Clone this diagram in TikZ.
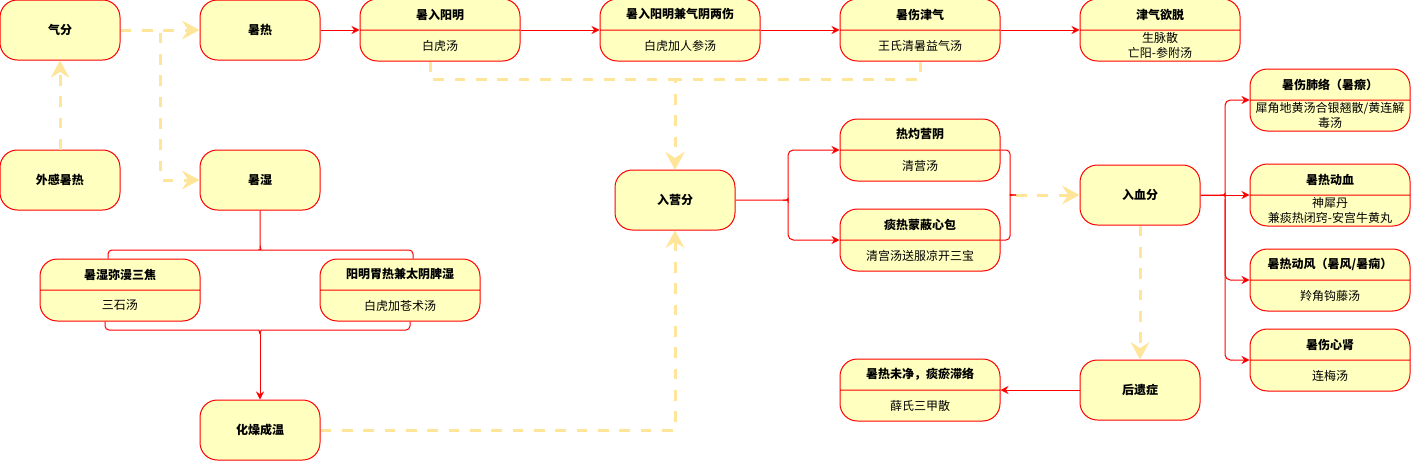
\documentclass[tikz,border=0pt]{standalone}
\usepackage{fontspec}
\setmainfont{Noto Sans CJK SC}
\usepackage{tikz}
\usetikzlibrary{positioning,shapes,arrows.meta,calc}
\definecolor{boxfill}{HTML}{FFFFC0}
\definecolor{dashcol}{HTML}{FFE599}
\newcommand*{\cellbox}[1]{\parbox[c][22.5pt][c]{120pt}{\centering #1}}

\begin{document}
\begin{tikzpicture}[x=0.75pt,y=-0.75pt,font=\fontsize{9}{11}\selectfont]
	\tikzstyle{simple}=[rectangle, draw=red, line width=0.75pt, rounded corners=13pt, fill=boxfill,
	minimum width=90pt, minimum height=45pt, text centered, font=\fontsize{9}{11}\selectfont\bfseries]
	\tikzstyle{split}=[rectangle, draw=red, line width=0.75pt, rounded corners=13pt, fill=boxfill,
	rectangle split, rectangle split parts=2, inner sep=0pt]
	\tikzstyle{line}=[draw=red, line width=0.75pt, -{Stealth[length=6pt,width=6pt,inset=2pt]}]
	\tikzstyle{plain}=[draw=red, line width=0.75pt, rounded corners=3pt]
	\tikzstyle{dashline}=[draw=dashcol, line width=2.25pt, dash pattern=on 8pt off 8pt,
	-{Stealth[length=13pt,width=14pt,inset=4.5pt]}]
	\useasboundingbox (0,0) rectangle (1411,461);

	% qi level
	\node (qifen) [simple] at (60,30) {气分};
	\node (wgsr) [simple] at (60,180) {外感暑热};
	\node (shure) [simple] at (260,30) {暑热};
	\node (shushi) [simple] at (260,180) {暑湿};
	\node (rydm) [split] at (440,30) {\cellbox{\textbf{暑入阳明}}\nodepart{second}\cellbox{白虎汤}};
	\node (rydmj) [split] at (680,30) {\cellbox{\textbf{暑入阳明兼气阴两伤}}\nodepart{second}\cellbox{白虎加人参汤}};
	\node (sssq) [split] at (920,30) {\cellbox{\textbf{暑伤津气}}\nodepart{second}\cellbox{王氏清暑益气汤}};
	\node (jqyt) [split] at (1160,30) {\cellbox{\textbf{津气欲脱}}\nodepart{second}\cellbox{生脉散\\亡阳-参附汤}};
	\node (swmj) [split] at (120,290) {\cellbox{\textbf{暑湿弥漫三焦}}\nodepart{second}\cellbox{三石汤}};
	\node (ymwr) [split] at (400,290) {\cellbox{\textbf{阳明胃热兼太阴脾湿}}\nodepart{second}\cellbox{白虎加苍术汤}};
	\node (hzcw) [simple] at (260,430) {化燥成温};

	% ying and xue levels
	\node (rys) [simple] at (675,200) {入营分};
	\node (rzyy) [split] at (920,150) {\cellbox{\textbf{热灼营阴}}\nodepart{second}\cellbox{清营汤}};
	\node (trmb) [split] at (920,240) {\cellbox{\textbf{痰热蒙蔽心包}}\nodepart{second}\cellbox{清宫汤送服凉开三宝}};
	\node (rxf) [simple] at (1140,195) {入血分};
	\node (sfl) [split] at (1330,100) {\cellbox{\textbf{暑伤肺络（暑瘵）}}\nodepart{second}\cellbox{犀角地黄汤合银翘散/黄连解\\毒汤}};
	\node (sdx) [split] at (1330,195) {\cellbox{\textbf{暑热动血}}\nodepart{second}\cellbox{神犀丹\\兼痰热闭窍-安宫牛黄丸}};
	\node (sdf) [split] at (1330,280) {\cellbox{\textbf{暑热动风（暑风/暑痫）}}\nodepart{second}\cellbox{羚角钩藤汤}};
	\node (sxs) [split] at (1330,360) {\cellbox{\textbf{暑伤心肾}}\nodepart{second}\cellbox{连梅汤}};
	\node (hyz) [simple] at (1140,390) {后遗症};
	\node (srwj) [split] at (920,390) {\cellbox{\textbf{暑热未净，痰瘀滞络}}\nodepart{second}\cellbox{薛氏三甲散}};
	\coordinate (yfork) at (1016,195);

	% dashed links
	\draw[dashline] (wgsr.north) -- (qifen.south);
	\draw[dashline] (qifen.east) -- (shure.west);
	\draw[dashline] (qifen.east) -- ++(40,0) |- (shushi.west);
	\draw[dashline] ([xshift=-7.5pt]rydm.south) -- ++(0,18) -| (rys.north);
	\draw[dashline] (sssq.south) -- ++(0,18) -| (rys.north);
	\draw[dashline] (hzcw.east) -| (rys.south);
	\draw[dashline] (yfork) -- (rxf.west);
	\draw[dashline] (rxf.south) -- (hyz.north);

	% red links
	\draw[line] (shure.east) -- (rydm.west);
	\draw[line] (rydm.east) -- (rydmj.west);
	\draw[line] (rydmj.east) -- (sssq.west);
	\draw[line] (sssq.east) -- (jqyt.west);
	\draw[plain] (shushi.south) -- (260,246) .. controls (260,249) and (258,250) .. (255,250) -| ($(swmj.north)+(-12,0)$);
	\draw[plain] (260,246) .. controls (260,249) and (262,250) .. (265,250) -| ($(ymwr.north)+(13,0)$);
	\draw[plain] ($(swmj.south)+(-15,0)$) |- (255,330) .. controls (258,330) and (260,331) .. (260,334);
	\draw[plain] ($(ymwr.south)+(10,0)$) |- (265,330) .. controls (262,330) and (260,331) .. (260,334);
	\draw[line] (260,334) -- (hzcw.north);
	\draw[line, rounded corners=4pt] (rys.east) -- (783,200) .. controls (786,200) and (788,199) .. (788,196) |- (rzyy.west);
	\draw[line, rounded corners=4pt] (783,200) .. controls (786,200) and (788,201) .. (788,204) |- (trmb.west);
	\draw[plain] (rzyy.east) -| (1010,191) .. controls (1010,194) and (1011,195) .. (yfork);
	\draw[plain] (trmb.east) -| (1010,199) .. controls (1010,196) and (1011,195) .. (yfork);
	\draw[line, rounded corners=4pt] (rxf.east) -- (1220,195) .. controls (1223,195) and (1225,194) .. (1225,191) |- (sfl.west);
	\draw[line] (rxf.east) -- (sdx.west);
	\draw[line, rounded corners=4pt] (1220,195) .. controls (1223,195) and (1225,196) .. (1225,199) |- (sdf.west);
	\draw[line, rounded corners=4pt] (1225,199) |- (sxs.west);
	\draw[line] (hyz.west) -- (srwj.east);
\end{tikzpicture}
\end{document}
